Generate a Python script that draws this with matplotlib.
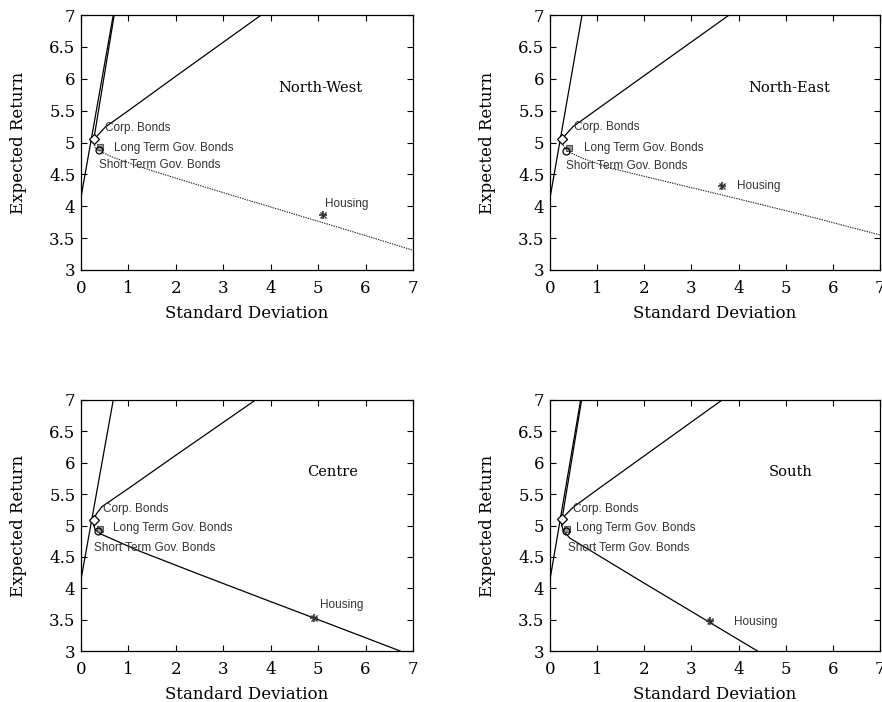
import matplotlib
matplotlib.use("Agg")
import matplotlib.pyplot as plt

# ---- data (standard deviation, expected return) ----
regions = ["North-West", "North-East", "Centre", "South"]

# efficient frontier, upper (solid) branch, top -> vertex
upper_sd = [
    [3.80, 2.00, 1.00, 0.51, 0.36, 0.28, 0.27],
    [3.80, 2.00, 1.00, 0.49, 0.33, 0.26, 0.26],
    [3.68, 2.00, 1.00, 0.44, 0.32, 0.27, 0.27],
    [3.65, 2.00, 1.00, 0.49, 0.33, 0.25, 0.25],
]
upper_ret = [
    [7.00, 6.04, 5.50, 5.24, 5.12, 5.04, 5.00],
    [7.00, 6.05, 5.52, 5.25, 5.12, 5.04, 5.00],
    [7.00, 6.12, 5.59, 5.30, 5.18, 5.08, 5.00],
    [7.00, 6.11, 5.57, 5.29, 5.17, 5.08, 5.00],
]
# lower branch, vertex -> right
lower_sd = [
    [0.27, 0.30, 0.40, 0.70, 1.24, 2.00, 3.50, 5.60, 7.00],
    [0.26, 0.30, 0.40, 0.70, 1.27, 2.50, 3.80, 5.50, 7.00],
    [0.27, 0.30, 0.40, 0.70, 1.24, 2.50, 3.78, 5.00, 6.73],
    [0.25, 0.28, 0.42, 0.99, 2.00, 3.00, 4.40],
]
lower_ret = [
    [5.00, 4.92, 4.86, 4.76, 4.62, 4.44, 4.10, 3.63, 3.31],
    [5.00, 4.93, 4.85, 4.75, 4.60, 4.38, 4.15, 3.84, 3.55],
    [5.00, 4.93, 4.87, 4.77, 4.59, 4.22, 3.85, 3.50, 3.00],
    [5.00, 4.92, 4.80, 4.54, 4.08, 3.63, 3.00],
]
lower_dotted = [True, True, False, False]

# steep line(s) from the return axis
steep_sd = [
    [[0.00, 0.68], [0.27, 0.70]],
    [[0.00, 0.68]],
    [[0.00, 0.68]],
    [[0.00, 0.65], [0.25, 0.67]],
]
steep_ret = [
    [[4.14, 7.00], [5.05, 7.00]],
    [[4.13, 7.00]],
    [[4.14, 7.00]],
    [[4.14, 7.00], [5.08, 7.00]],
]

# assets: corp bonds, long term gov, short term gov, housing
corp = [(0.27, 5.05), (0.25, 5.05), (0.27, 5.09), (0.25, 5.10)]
long_gov = [(0.40, 4.93), (0.40, 4.92), (0.40, 4.95), (0.37, 4.95)]
short_gov = [(0.37, 4.89), (0.34, 4.87), (0.35, 4.91), (0.34, 4.92)]
housing = [(5.11, 3.87), (3.65, 4.32), (4.92, 3.53), (3.40, 3.48)]

# label anchors (left edge, vertical centre)
corp_lbl = [(0.51, 5.23), (0.51, 5.25), (0.46, 5.26), (0.49, 5.26)]
long_lbl = [(0.70, 4.92), (0.72, 4.92), (0.67, 4.96), (0.55, 4.96)]
short_lbl = [(0.39, 4.65), (0.34, 4.63), (0.27, 4.64), (0.38, 4.64)]
housing_lbl = [(5.15, 4.04), (3.97, 4.32), (5.04, 3.74), (3.90, 3.47)]
title_pos = [(5.05, 5.86), (5.07, 5.86), (5.30, 5.86), (5.10, 5.86)]

xticks = [0, 1, 2, 3, 4, 5, 6, 7]
yticks = [3, 3.5, 4, 4.5, 5, 5.5, 6, 6.5, 7]
ytick_labels = ["3", "3.5", "4", "4.5", "5", "5.5", "6", "6.5", "7"]

W, H = 882, 702
boxes = [(81, 15, 413, 270), (550, 15, 880, 270),
         (81, 400, 413, 651), (550, 400, 880, 651)]

serif = "DejaVu Serif"
sans = "Liberation Sans"

fig = plt.figure(figsize=(W / 100, H / 100), dpi=100)

for i, name in enumerate(regions):
    x0, y0, x1, y1 = boxes[i]
    ax = fig.add_axes([x0 / W, 1 - y1 / H, (x1 - x0) / W, (y1 - y0) / H])

    for sx, sy in zip(steep_sd[i], steep_ret[i]):
        ax.plot(sx, sy, color="black", lw=0.9)
    ax.plot(upper_sd[i], upper_ret[i], color="black", lw=0.9)
    if lower_dotted[i]:
        ax.plot(lower_sd[i], lower_ret[i], color="#222222", lw=0.8,
                linestyle=(0, (1.2, 1.0)))
    else:
        ax.plot(lower_sd[i], lower_ret[i], color="black", lw=0.9)

    ax.plot(*corp[i], marker="D", ms=5, mfc="white", mec="black", mew=0.9)
    ax.plot(*long_gov[i], marker="s", ms=5, mfc="#9a9a9a", mec="#555555", mew=0.8)
    ax.plot(*short_gov[i], marker="o", ms=5, mfc="none", mec="black", mew=0.9)
    # MATLAB-style asterisk: plus + cross
    ax.plot(*housing[i], marker="+", ms=6, color="#333333", mew=1.2)
    ax.plot(*housing[i], marker="x", ms=4.5, color="#333333", mew=1.0)

    kw = dict(fontsize=8.5, family=sans, color="#333333", va="center", ha="left")
    ax.text(*corp_lbl[i], "Corp. Bonds", **kw)
    ax.text(*long_lbl[i], "Long Term Gov. Bonds", **kw)
    ax.text(*short_lbl[i], "Short Term Gov. Bonds", **kw)
    ax.text(*housing_lbl[i], "Housing", **kw)
    ax.text(*title_pos[i], name, fontsize=10.5, family=serif, ha="center", va="center")

    ax.set_xlim(0, 7)
    ax.set_ylim(3, 7)
    ax.set_xticks(xticks)
    ax.set_xticklabels([str(t) for t in xticks], family=serif, fontsize=12)
    ax.set_yticks(yticks)
    ax.set_yticklabels(ytick_labels, family=serif, fontsize=12)
    ax.tick_params(direction="in", length=4, width=0.8, top=True, right=True)
    ax.tick_params(axis="x", pad=7)
    ax.tick_params(axis="y", pad=4)
    for s in ax.spines.values():
        s.set_linewidth(0.9)
    ax.set_xlabel("Standard Deviation", family=serif, fontsize=12, labelpad=6)
    ax.set_ylabel("Expected Return", family=serif, fontsize=12, labelpad=16)

fig.savefig("out.png", dpi=100)
